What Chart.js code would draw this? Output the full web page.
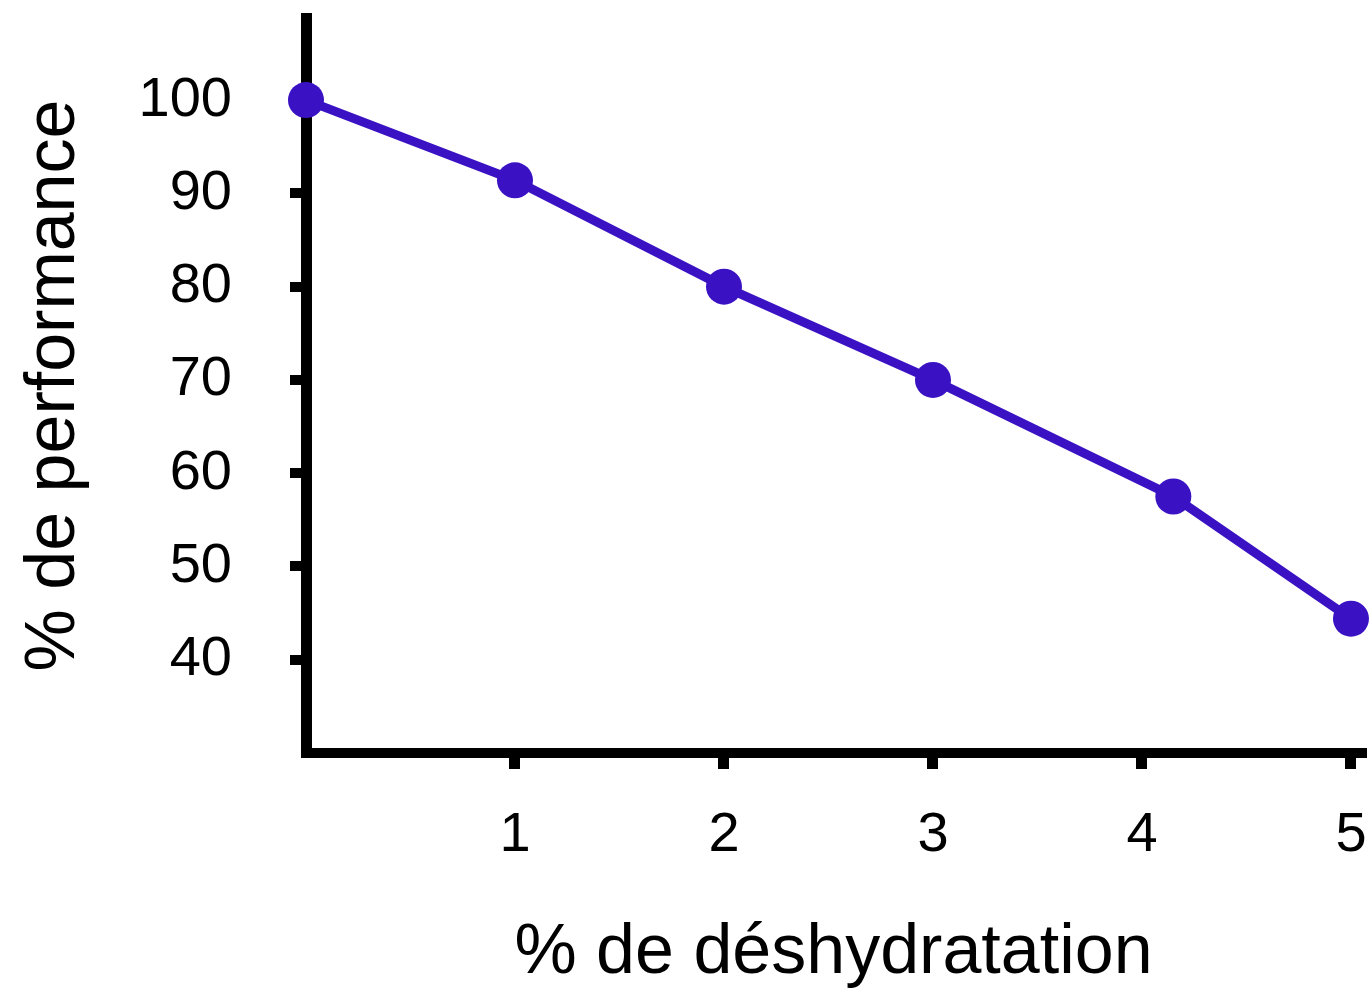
<!DOCTYPE html>
<html>
<head>
<meta charset="utf-8">
<title>% de performance vs % de déshydratation</title>
<script src="https://cdn.jsdelivr.net/npm/chart.js@4.4.1/dist/chart.umd.min.js"></script>
<style>
  html, body { margin: 0; padding: 0; background: #fff; }
</style>
</head>
<body>
<canvas id="perfChart" width="1372" height="996"></canvas>
<script>
// values
const deshydratation = [0, 1, 2, 3, 4.15, 5];
const perfValues = [100, 91.4, 80, 70, 57.5, 44.4];
const xTickValues = [1, 2, 3, 4, 5];
const yTickValues = [40, 50, 60, 70, 80, 90, 100];

const lineColor = '#3a12c4';
const fontFamily = "'Liberation Sans', Arial, sans-serif";

document.addEventListener('DOMContentLoaded', function() {
    const ctx = document.getElementById('perfChart').getContext('2d');

    const points = deshydratation.map((x, i) => ({ x: x, y: perfValues[i] }));

    new Chart(ctx, {
        type: 'line',
        data: {
            datasets: [{
                data: points,
                borderColor: lineColor,
                backgroundColor: lineColor,
                borderWidth: 9,
                pointRadius: 18,
                pointBorderWidth: 0,
                pointBackgroundColor: lineColor,
                tension: 0,
                clip: false
            }]
        },
        options: {
            responsive: false,
            animation: false,
            layout: {
                autoPadding: false,
                padding: { top: 18, right: 11, bottom: 0, left: 0 }
            },
            plugins: {
                legend: { display: false },
                tooltip: { enabled: false }
            },
            scales: {
                x: {
                    type: 'linear',
                    min: 0,
                    max: 5.048,
                    afterBuildTicks: function(scale) {
                        scale.ticks = xTickValues.map(v => ({ value: v }));
                    },
                    afterFit: function(scale) {
                        scale.height = 243;
                        scale.paddingLeft = 0;
                        scale.paddingRight = 0;
                    },
                    grid: {
                        drawOnChartArea: false,
                        drawTicks: true,
                        tickLength: 16,
                        tickWidth: 11,
                        lineWidth: 11,
                        color: '#000'
                    },
                    border: { display: true, color: '#000', width: 10 },
                    ticks: {
                        color: '#000',
                        autoSkip: false,
                        maxRotation: 0,
                        padding: 33,
                        font: { family: fontFamily, size: 56 }
                    },
                    title: {
                        display: true,
                        text: '% de déshydratation',
                        color: '#000',
                        padding: { top: 0, bottom: 0 },
                        font: { family: fontFamily, size: 70 }
                    }
                },
                y: {
                    type: 'linear',
                    min: 30,
                    max: 108.8,
                    afterBuildTicks: function(scale) {
                        scale.ticks = yTickValues.map(v => ({ value: v }));
                    },
                    afterFit: function(scale) {
                        scale.width = 306;
                        scale.paddingTop = 0;
                        scale.paddingBottom = 0;
                    },
                    grid: {
                        drawOnChartArea: false,
                        drawTicks: true,
                        tickLength: 16,
                        tickWidth: 10,
                        lineWidth: 10,
                        color: '#000'
                    },
                    border: { display: true, color: '#000', width: 11 },
                    ticks: {
                        color: '#000',
                        padding: 58,
                        font: { family: fontFamily, size: 56 }
                    },
                    title: {
                        display: true,
                        text: '% de performance',
                        color: '#000',
                        padding: { top: 13, bottom: 0 },
                        font: { family: fontFamily, size: 70 }
                    }
                }
            }
        }
    });
});
</script>
</body>
</html>
